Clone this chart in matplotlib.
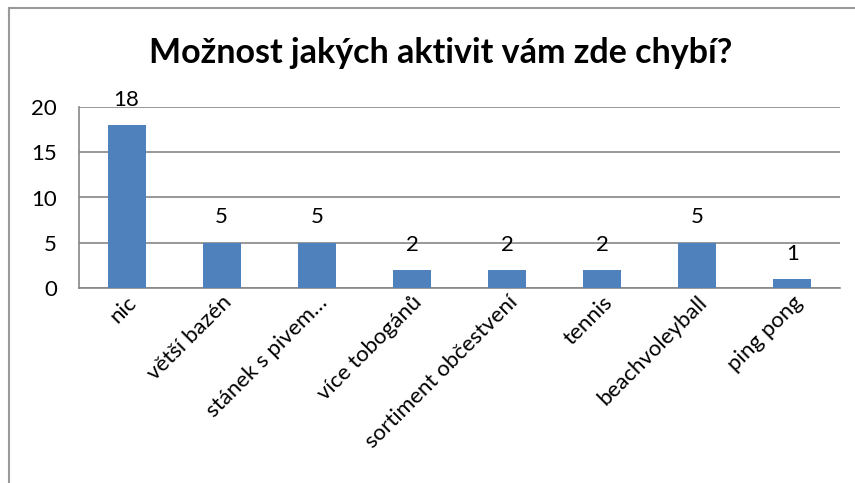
import matplotlib
matplotlib.use("Agg")
import matplotlib.pyplot as plt
from matplotlib.lines import Line2D

categories = ["nic", "větší bazén", "stánek s pivem…", "více tobogánů",
              "sortiment občestvení", "tennis", "beachvoleyball", "ping pong"]
values = [18, 5, 5, 2, 2, 2, 5, 1]
yticks = [0, 5, 10, 15, 20]
title = "Možnost jakých aktivit vám zde chybí?"

plt.rcParams['font.family'] = ['Lato', 'DejaVu Sans']

W, H = 855, 483
fig = plt.figure(figsize=(W/100, H/100), dpi=100)
ax = fig.add_axes([79/W, 1-288/H, (840-79)/W, (288-107)/H])

x = list(range(len(categories)))
bars = ax.bar(x, values, width=0.4, color="#4F81BD", zorder=3)
ax.set_xlim(-0.5, len(categories)-0.5)
ax.set_ylim(0, 20)
ax.set_yticks(yticks)
ax.set_yticklabels([str(t) for t in yticks], fontsize=16)
ax.yaxis.grid(True, color="#868686", linewidth=1.2, zorder=0)
ax.tick_params(axis='y', length=0, pad=16)
ax.tick_params(axis='x', length=0, pad=3)
ax.set_xticks(x)
ax.set_xticklabels(categories, rotation=45, ha='right', va='top',
                   rotation_mode='anchor', fontsize=16)
for s in ['top', 'right']:
    ax.spines[s].set_visible(False)
for s in ['left', 'bottom']:
    ax.spines[s].set_color("#868686")
    ax.spines[s].set_linewidth(1.2)

for xi, v in zip(x, values):
    ax.annotate(str(v), (xi, v), xytext=(0, 11), textcoords='offset points',
                ha='center', va='bottom', fontsize=16, annotation_clip=False)

fig.text(441/W, 1-53/H, title, ha='center', va='center', fontsize=24.5,
         fontweight='bold')

# outer chart frame
fig.add_artist(Line2D([9/W, 1], [1-8/H, 1-8/H], color="#9a9a9a", linewidth=1.5,
                      transform=fig.transFigure))
fig.add_artist(Line2D([9/W, 9/W], [1-8/H, 0], color="#9a9a9a", linewidth=1.5,
                      transform=fig.transFigure))

fig.savefig("out.png", dpi=100)
